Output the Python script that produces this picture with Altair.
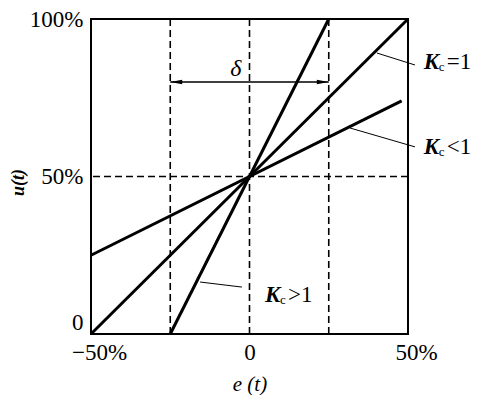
import altair as alt
import pandas as pd

# Characteristic lines: e(t) in %, u(t) in %
kc1_e = [-50, 50]
kc1_u = [0, 100]
kcgt_e = [-25, 25]
kcgt_u = [0, 100]
kclt_e = [-50, 48]
kclt_u = [25, 74]

# Dashed reference lines
v_refs = [-25, 0, 25]
h_refs = [50]

# delta (proportional band) arrow
delta_e = [-25, 25]
delta_u = 80

# tick values
x_ticks = [-50, 0, 50]
y_ticks = [0, 50, 100]

# annotation labels
lab_text = ["=1", "<1", ">1"]
lab_e = [55.0, 55.0, 4.9]
lab_u = [86.3, 59.4, 12.4]
# leader lines (from line to label)
lead_e1 = [40.2, 31.7, -15.6]
lead_u1 = [89.2, 65.4, 16.5]
lead_e2 = [52.2, 52.2, -2.4]
lead_u2 = [85.4, 59.4, 14.9]

FONT = "Liberation Serif"

lines = pd.DataFrame({
    "e": kc1_e + kcgt_e + kclt_e,
    "u": kc1_u + kcgt_u + kclt_u,
    "s": ["Kc=1"] * 2 + ["Kc>1"] * 2 + ["Kc<1"] * 2,
})

xs = alt.Scale(domain=[-50, 50], nice=False, zero=False)
ys = alt.Scale(domain=[0, 100], nice=False, zero=False)

xaxis = alt.Axis(
    values=x_ticks, grid=False, ticks=False, domain=False,
    labelExpr="datum.value == 0 ? '0' : (datum.value < 0 ? '\u221250%' : '50%')",
    labelFont=FONT, labelFontSize=23, labelColor="black", labelFlush=False,
    labelPadding=7, labelOffset={"expr": "datum.value == 0 ? 0 : 8"},
    title="e (t)", titleFont=FONT, titleFontSize=21, titleFontStyle="italic",
    titleFontWeight="normal", titleColor="black", titlePadding=9,
)
yaxis = alt.Axis(
    values=y_ticks, grid=False, ticks=False, domain=False,
    labelExpr="datum.value == 0 ? '0' : datum.value + '%'",
    labelFont=FONT, labelFontSize=23, labelColor="black", labelFlush=False,
    labelPadding=8,
    labelBaseline={"expr": "datum.value == 0 ? 'bottom' : 'middle'"},
    title="u(t)", titleFont=FONT, titleFontSize=18, titleFontStyle="italic",
    titleFontWeight="bold", titleColor="black", titleX=-64, titleY=163,
)

main = alt.Chart(lines).mark_line(color="black", strokeWidth=3).encode(
    x=alt.X("e:Q", scale=xs, axis=xaxis),
    y=alt.Y("u:Q", scale=ys, axis=yaxis),
    detail="s:N",
)

vr = alt.Chart(pd.DataFrame({"e": v_refs})).mark_rule(
    color="black", strokeWidth=1.6, strokeDash=[7, 4]
).encode(x=alt.X("e:Q", scale=xs))
hr = alt.Chart(pd.DataFrame({"u": h_refs})).mark_rule(
    color="black", strokeWidth=1.6, strokeDash=[7, 4]
).encode(y=alt.Y("u:Q", scale=ys))

arrow_df = pd.DataFrame({"e": [delta_e[0]], "e2": [delta_e[1]], "u": [delta_u]})
arrow = alt.Chart(arrow_df).mark_rule(color="black", strokeWidth=1.5).encode(
    x=alt.X("e:Q", scale=xs), x2="e2:Q", y=alt.Y("u:Q", scale=ys)
)
heads_df = pd.DataFrame({
    "e": delta_e, "u": [delta_u, delta_u],
    "side": ["l", "r"],
})
head_l = alt.Chart(heads_df[heads_df.side == "l"]).mark_point(
    shape="M -1 0 L 1 -0.4 L 1 0.4 Z", filled=True, color="black", opacity=1,
    size=140, xOffset=6,
).encode(x=alt.X("e:Q", scale=xs), y=alt.Y("u:Q", scale=ys))
head_r = alt.Chart(heads_df[heads_df.side == "r"]).mark_point(
    shape="M 1 0 L -1 -0.4 L -1 0.4 Z", filled=True, color="black", opacity=1,
    size=140, xOffset=-6,
).encode(x=alt.X("e:Q", scale=xs), y=alt.Y("u:Q", scale=ys))

delta_txt = alt.Chart(pd.DataFrame({"e": [-4.3], "u": [84.0], "t": ["\u03b4"]})).mark_text(
    font=FONT, fontSize=24, fontStyle="italic", color="black"
).encode(x=alt.X("e:Q", scale=xs), y=alt.Y("u:Q", scale=ys), text="t:N")

lead_df = pd.DataFrame({"e1": lead_e1, "u1": lead_u1, "e2": lead_e2, "u2": lead_u2})
leads = alt.Chart(lead_df).mark_rule(color="black", strokeWidth=1).encode(
    x=alt.X("e1:Q", scale=xs), y=alt.Y("u1:Q", scale=ys), x2="e2:Q", y2="u2:Q"
)

lab_df = pd.DataFrame({"e": lab_e, "u": lab_u, "t": lab_text})
base_lab = alt.Chart(lab_df).encode(x=alt.X("e:Q", scale=xs), y=alt.Y("u:Q", scale=ys))
lab_k = base_lab.mark_text(
    font=FONT, fontSize=23, fontStyle="italic", fontWeight="bold", color="black",
    align="left", baseline="middle",
).encode(text=alt.value("K"))
lab_c = base_lab.mark_text(
    font=FONT, fontSize=13, color="black", align="left", baseline="middle", dx=15, dy=5,
).encode(text=alt.value("c"))
lab_r = base_lab.mark_text(
    font=FONT, fontSize=23, color="black", align="left", baseline="middle", dx=23,
).encode(text="t:N")

chart = alt.layer(
    vr, hr, main, arrow, head_l, head_r, delta_txt, leads, lab_k, lab_c, lab_r
).properties(
    width=317, height=315,
    autosize=alt.AutoSizeParams(type="none"),
    padding={"left": 83, "top": 11, "right": 76, "bottom": 61},
    background="white",
).configure_view(stroke="black", strokeWidth=2)

chart.save("out.html", embed_options={"renderer": "svg", "actions": False})
